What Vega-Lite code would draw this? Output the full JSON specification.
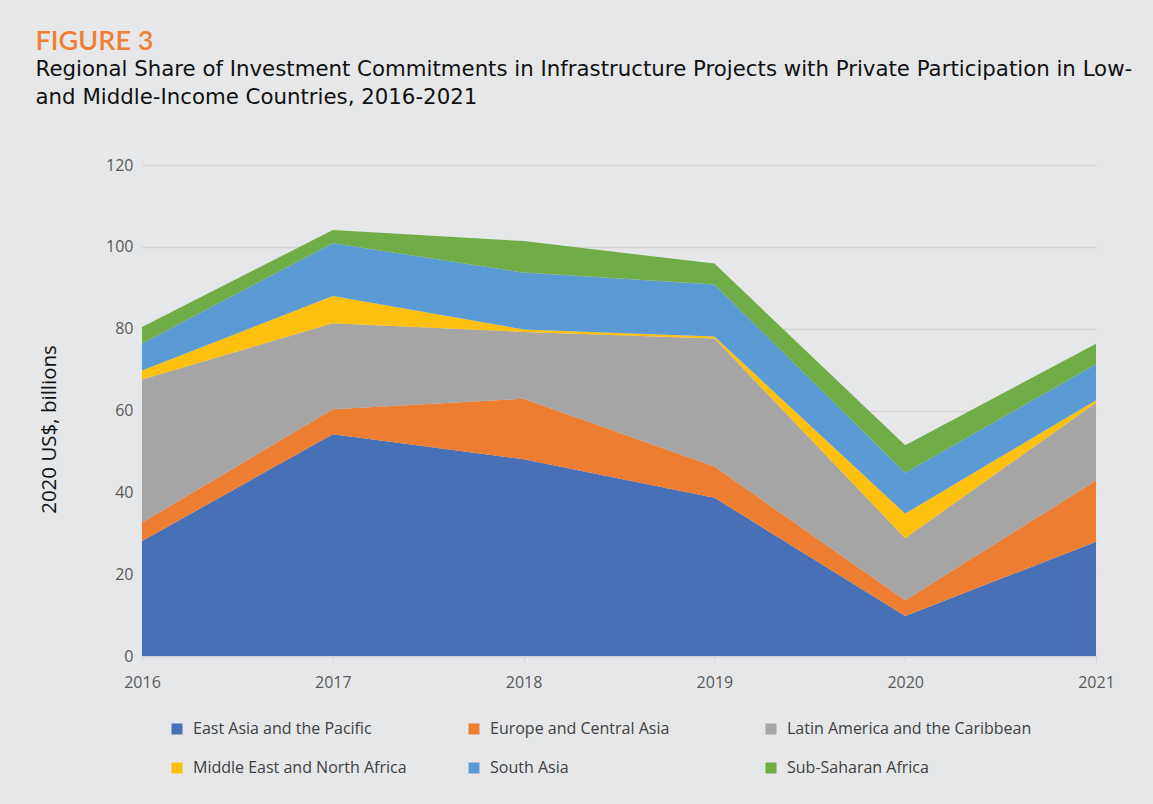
{
  "$schema": "https://vega.github.io/schema/vega-lite/v6.json",
  "width": 1153,
  "height": 804,
  "autosize": {"type": "fit", "contains": "padding"},
  "padding": {"left": 35, "top": 27, "right": 38, "bottom": 28},
  "background": "#e6e7e9",
  "title": {
    "text": "FIGURE 3",
    "subtitle": ["Regional Share of Investment Commitments in Infrastructure Projects with Private Participation in Low-", "and Middle-Income Countries, 2016-2021"],
    "anchor": "start",
    "frame": "bounds",
    "dx": -4,
    "font": "Lato",
    "fontSize": 27,
    "fontWeight": 600,
    "color": "#f07f33",
    "subtitleFont": "DejaVu Sans",
    "subtitleFontSize": 21.3,
    "subtitleFontWeight": "normal",
    "subtitleColor": "#111111",
    "subtitleLineHeight": 28,
    "subtitlePadding": 3,
    "offset": 48
  },
  "data": {
    "values": [
      {"year": 2016, "region": "East Asia and the Pacific", "value": 28.1},
      {"year": 2016, "region": "Europe and Central Asia", "value": 4.5},
      {"year": 2016, "region": "Latin America and the Caribbean", "value": 35.0},
      {"year": 2016, "region": "Middle East and North Africa", "value": 2.2},
      {"year": 2016, "region": "South Asia", "value": 6.6},
      {"year": 2016, "region": "Sub-Saharan Africa", "value": 4.0},
      {"year": 2017, "region": "East Asia and the Pacific", "value": 54.2},
      {"year": 2017, "region": "Europe and Central Asia", "value": 6.1},
      {"year": 2017, "region": "Latin America and the Caribbean", "value": 21.0},
      {"year": 2017, "region": "Middle East and North Africa", "value": 6.7},
      {"year": 2017, "region": "South Asia", "value": 12.9},
      {"year": 2017, "region": "Sub-Saharan Africa", "value": 3.2},
      {"year": 2018, "region": "East Asia and the Pacific", "value": 48.1},
      {"year": 2018, "region": "Europe and Central Asia", "value": 14.8},
      {"year": 2018, "region": "Latin America and the Caribbean", "value": 16.3},
      {"year": 2018, "region": "Middle East and North Africa", "value": 0.6},
      {"year": 2018, "region": "South Asia", "value": 13.9},
      {"year": 2018, "region": "Sub-Saharan Africa", "value": 7.7},
      {"year": 2019, "region": "East Asia and the Pacific", "value": 38.7},
      {"year": 2019, "region": "Europe and Central Asia", "value": 7.6},
      {"year": 2019, "region": "Latin America and the Caribbean", "value": 31.3},
      {"year": 2019, "region": "Middle East and North Africa", "value": 0.5},
      {"year": 2019, "region": "South Asia", "value": 12.7},
      {"year": 2019, "region": "Sub-Saharan Africa", "value": 5.1},
      {"year": 2020, "region": "East Asia and the Pacific", "value": 9.8},
      {"year": 2020, "region": "Europe and Central Asia", "value": 3.8},
      {"year": 2020, "region": "Latin America and the Caribbean", "value": 15.2},
      {"year": 2020, "region": "Middle East and North Africa", "value": 6.0},
      {"year": 2020, "region": "South Asia", "value": 10.0},
      {"year": 2020, "region": "Sub-Saharan Africa", "value": 6.7},
      {"year": 2021, "region": "East Asia and the Pacific", "value": 27.9},
      {"year": 2021, "region": "Europe and Central Asia", "value": 15.0},
      {"year": 2021, "region": "Latin America and the Caribbean", "value": 19.0},
      {"year": 2021, "region": "Middle East and North Africa", "value": 0.6},
      {"year": 2021, "region": "South Asia", "value": 8.8},
      {"year": 2021, "region": "Sub-Saharan Africa", "value": 5.0}
    ]
  },
  "mark": {"type": "area", "opacity": 1},
  "encoding": {
    "x": {
      "field": "year",
      "type": "quantitative",
      "scale": {"domain": [2016, 2021], "nice": false, "zero": false},
      "axis": {
        "values": [2016, 2017, 2018, 2019, 2020, 2021],
        "format": "d",
        "title": null,
        "grid": false,
        "domain": true,
        "domainColor": "#d3d4d6",
        "domainWidth": 1.5,
        "ticks": true,
        "tickColor": "#d3d4d6",
        "tickSize": 6,
        "labelFlush": false,
        "labelPadding": 12,
        "labelFont": "Open Sans",
        "labelFontSize": 16,
        "labelColor": "#595959"
      }
    },
    "y": {
      "field": "value",
      "type": "quantitative",
      "stack": "zero",
      "scale": {"domain": [0, 120], "nice": false},
      "axis": {
        "values": [0, 20, 40, 60, 80, 100, 120],
        "title": "2020 US$, billions",
        "titleFont": "Open Sans",
        "titleFontSize": 20.5,
        "titleFontWeight": "normal",
        "titleColor": "#111111",
        "titlePadding": 46,
        "titleY": 264,
        "grid": true,
        "gridColor": "#d3d4d6",
        "gridWidth": 1.5,
        "domain": false,
        "ticks": false,
        "labelPadding": 9,
        "labelFont": "Open Sans",
        "labelFontSize": 16,
        "labelColor": "#595959"
      }
    },
    "color": {
      "field": "region",
      "type": "nominal",
      "scale": {
        "domain": ["East Asia and the Pacific", "Europe and Central Asia", "Latin America and the Caribbean", "Middle East and North Africa", "South Asia", "Sub-Saharan Africa"],
        "range": ["#4870b7", "#ed7d31", "#a5a5a5", "#fec00f", "#5b9bd5", "#70ad47"]
      },
      "legend": {
        "orient": "bottom",
        "direction": "horizontal",
        "columns": 3,
        "title": null,
        "gridAlign": "all",
        "offset": 31,
        "rowPadding": 23,
        "columnPadding": 1,
        "symbolType": "square",
        "symbolSize": 121,
        "symbolOpacity": 1,
        "symbolStrokeWidth": 0,
        "symbolOffset": 27,
        "labelOffset": 8,
        "labelFont": "Open Sans",
        "labelFontSize": 16,
        "labelColor": "#404040",
        "labelLimit": 400
      }
    },
    "order": {"field": "region", "sort": "ascending"}
  },
  "config": {
    "view": {"stroke": null}
  }
}
